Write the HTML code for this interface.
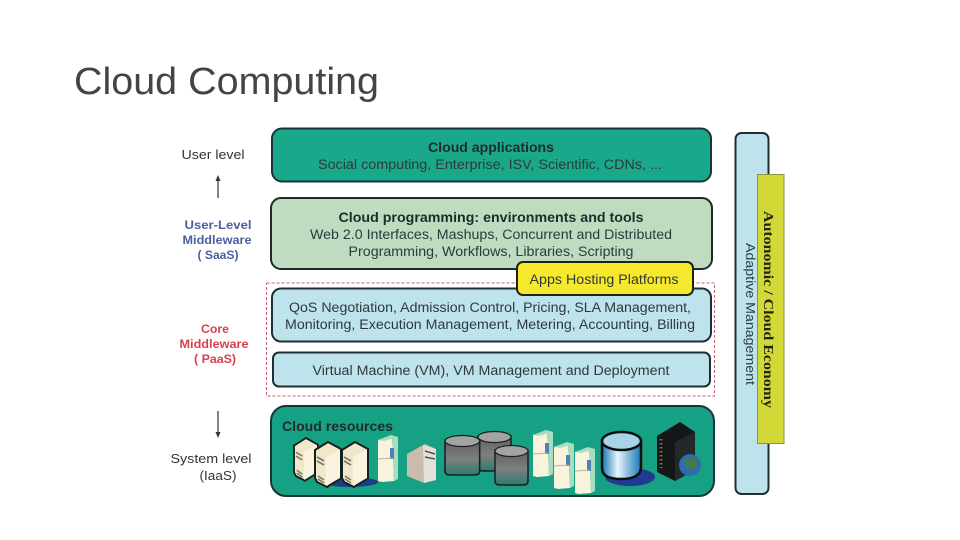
<!DOCTYPE html>
<html><head><meta charset="utf-8"><title>Cloud Computing</title>
<style>
html,body{margin:0;padding:0;background:#fff}
svg{display:block}
text{font-family:"Liberation Sans",sans-serif;fill:#2c3a3c;font-size:13.5px}
.b{font-weight:bold;fill:#1e2b2c}
.l{fill:#333}
.s{font-weight:bold;font-size:12px}
</style></head><body>
<svg width="960" height="540" viewBox="0 0 960 540" xmlns="http://www.w3.org/2000/svg">
<defs>
<linearGradient id="cyl" x1="0" y1="0" x2="0" y2="1"><stop offset="0" stop-color="#5f6160"/><stop offset=".55" stop-color="#7d7f7e"/><stop offset="1" stop-color="#2c7c70"/></linearGradient>
<linearGradient id="blue" x1="0" y1="0" x2="1" y2="0"><stop offset="0" stop-color="#1577b0"/><stop offset=".4" stop-color="#e8f5fb"/><stop offset="1" stop-color="#1a78b4"/></linearGradient>
<g id="srv"><path d="M0 8L13 0 26 7V36L12 45 2 40 0 36Z" fill="#f1e8cb" stroke="#12201e" stroke-width="2" stroke-linejoin="round"/><path d="M11 15L25 7.500V36L11 44Z" fill="#f9f3df"/><path d="M2 15L9 19M2 19L9 23M3 34L9 38M3 37L9 41" stroke="#7b7665" stroke-width="1.600"/></g>
<g id="rack"><path d="M0 5L14 1 16 46 4 47 0 46Z" fill="#f8f4dc"/><path d="M14 1L20 2V44L16 46Z" fill="#a9dcc0"/><path d="M0 5L13 0 20 2 6 6Z" fill="#a9dcc0"/><rect x="12" y="13" width="4" height="11" fill="#4f7fb5"/><path d="M0 24L15 23" stroke="#b9b69e" stroke-width="1"/></g>
<g id="can"><path d="M0 5V36Q0 40 5 40H28Q33 40 33 36V5Z" fill="url(#cyl)" stroke="#1a1f1f" stroke-width="1.500"/><ellipse cx="16.500" cy="6" rx="16.500" ry="5.500" fill="#a3a3a3" stroke="#1a1f1f" stroke-width="1.200"/></g>
</defs>
<rect width="960" height="540" fill="#fff"/>
<text x="74" y="94" textLength="305" lengthAdjust="spacingAndGlyphs" style="font-size:38px;fill:#444">Cloud Computing</text>

<rect x="272" y="128.500" width="439" height="53" rx="10" fill="#1aa88b" stroke="#1c3338" stroke-width="2"/>
<rect x="271" y="198" width="441" height="71" rx="10" fill="#bfdcc0" stroke="#1c2b2a" stroke-width="2"/>
<rect x="266.500" y="283" width="448" height="113" fill="none" stroke="#c4606c" stroke-width="1" stroke-dasharray="3 2"/>
<rect x="272" y="288.500" width="439" height="53" rx="9" fill="#bfe3ec" stroke="#1c2f33" stroke-width="2"/>
<rect x="273" y="352.500" width="437" height="34" rx="6" fill="#bfe3ec" stroke="#1c2f33" stroke-width="2"/>
<rect x="271" y="406" width="443" height="90" rx="15" fill="#17a184" stroke="#1c3338" stroke-width="2"/>
<rect x="517" y="262" width="176" height="33" rx="6" fill="#f6e82c" stroke="#1c2410" stroke-width="2"/>
<rect x="735.500" y="133" width="33" height="361" rx="6" fill="#bfe3ec" stroke="#1c2f33" stroke-width="2"/>
<rect x="757.500" y="174.500" width="26.500" height="269" fill="#d2d937" stroke="#8f9440" stroke-width="1"/>

<text class="b" x="491" y="152" text-anchor="middle" textLength="126" lengthAdjust="spacingAndGlyphs">Cloud applications</text>
<text x="490" y="169" text-anchor="middle" textLength="344" lengthAdjust="spacingAndGlyphs">Social computing, Enterprise,  ISV, Scientific, CDNs, ...</text>
<text class="b" x="491" y="222" text-anchor="middle" textLength="305" lengthAdjust="spacingAndGlyphs">Cloud programming: environments and tools</text>
<text x="491" y="239" text-anchor="middle" textLength="362" lengthAdjust="spacingAndGlyphs">Web 2.0 Interfaces, Mashups, Concurrent and Distributed</text>
<text x="491" y="256" text-anchor="middle" textLength="285" lengthAdjust="spacingAndGlyphs">Programming, Workflows, Libraries, Scripting</text>
<text x="604" y="284" text-anchor="middle" textLength="149" lengthAdjust="spacingAndGlyphs">Apps Hosting Platforms</text>
<text x="490" y="312" text-anchor="middle" textLength="402" lengthAdjust="spacingAndGlyphs">QoS Negotiation, Admission Control,  Pricing, SLA Management,</text>
<text x="490" y="329" text-anchor="middle" textLength="410" lengthAdjust="spacingAndGlyphs">Monitoring, Execution Management, Metering, Accounting, Billing</text>
<text x="491" y="375" text-anchor="middle" textLength="357" lengthAdjust="spacingAndGlyphs">Virtual Machine (VM),  VM Management and Deployment</text>
<text class="b" x="282" y="431" textLength="111" lengthAdjust="spacingAndGlyphs">Cloud resources</text>

<text class="l" x="213" y="159" text-anchor="middle" textLength="63" lengthAdjust="spacingAndGlyphs" style="font-size:13px">User level</text>
<path d="M218 198V179" stroke="#333" stroke-width="1.200"/><path d="M215.500 181L218 175 220.500 181Z" fill="#333"/>
<text class="s" x="218" y="229" text-anchor="middle" textLength="67" lengthAdjust="spacingAndGlyphs" style="fill:#4a5f9e">User-Level</text>
<text class="s" x="217" y="244" text-anchor="middle" textLength="69" lengthAdjust="spacingAndGlyphs" style="fill:#4a5f9e">Middleware</text>
<text class="s" x="218" y="259" text-anchor="middle" textLength="41" lengthAdjust="spacingAndGlyphs" style="fill:#4a5f9e">( SaaS)</text>
<text class="s" x="215" y="333" text-anchor="middle" textLength="28" lengthAdjust="spacingAndGlyphs" style="fill:#d8404e">Core</text>
<text class="s" x="214" y="348" text-anchor="middle" textLength="69" lengthAdjust="spacingAndGlyphs" style="fill:#d8404e">Middleware</text>
<text class="s" x="215" y="363" text-anchor="middle" textLength="42" lengthAdjust="spacingAndGlyphs" style="fill:#d8404e">( PaaS)</text>
<path d="M218 411V433" stroke="#333" stroke-width="1.200"/><path d="M215.500 432L218 438 220.500 432Z" fill="#333"/>
<text class="l" x="211" y="463" text-anchor="middle" textLength="81" lengthAdjust="spacingAndGlyphs" style="font-size:13px">System level</text>
<text class="l" x="218" y="480" text-anchor="middle" textLength="37" lengthAdjust="spacingAndGlyphs" style="font-size:13px">(IaaS)</text>

<text transform="translate(746 243) rotate(90)" textLength="142" lengthAdjust="spacingAndGlyphs" style="font-size:13px">Adaptive Management</text>
<text transform="translate(764 211) rotate(90)" textLength="197" lengthAdjust="spacingAndGlyphs" style="font-family:'Liberation Serif',serif;font-weight:bold;font-size:14px;fill:#1f2410">Autonomic / Cloud Economy</text>

<ellipse cx="350" cy="482" rx="28" ry="5" fill="#1a3f86"/>
<use href="#srv" transform="translate(294 438) scale(.92 .95)"/>
<use href="#srv" transform="translate(315 442)"/>
<use href="#srv" transform="translate(342 442)"/>
<use href="#rack" transform="translate(378 435)"/>
<path d="M407 454L425 444 436 449V480L424 483 407 476Z" fill="#c9bcae"/><path d="M423 445L436 449V480L424 483Z" fill="#e4e0d8"/><path d="M425 451L435 454M425 457L435 459" stroke="#555" stroke-width="1.500"/>
<use href="#can" transform="translate(478 431)"/>
<use href="#can" transform="translate(445 435) scale(1.050 1)"/>
<use href="#can" transform="translate(495 445)"/>
<use href="#rack" transform="translate(533 430)"/>
<use href="#rack" transform="translate(554 442)"/>
<use href="#rack" transform="translate(575 447)"/>
<ellipse cx="630" cy="477" rx="25" ry="9" fill="#233a92"/>
<path d="M602 441V468Q602 479 621 479T641 468V441Z" fill="url(#blue)" stroke="#0c0f10" stroke-width="2.500"/>
<ellipse cx="621.500" cy="441" rx="19.500" ry="9" fill="#a9d3e9" stroke="#0c0f10" stroke-width="2.500"/>
<path d="M657 436L680 422 695 432V470L675 481 657 472Z" fill="#141618"/><path d="M675 442L695 432V470L675 481Z" fill="#25282a"/>
<path d="M661 439V468" stroke="#7d6f3a" stroke-width="3" stroke-dasharray="1.500 2.500"/>
<circle cx="690" cy="465" r="11" fill="#2c6cb0"/><path d="M684 461Q690 455 697 459L698 466 691 471 686 467Z" fill="#3f7a52"/>
</svg>
</body></html>
